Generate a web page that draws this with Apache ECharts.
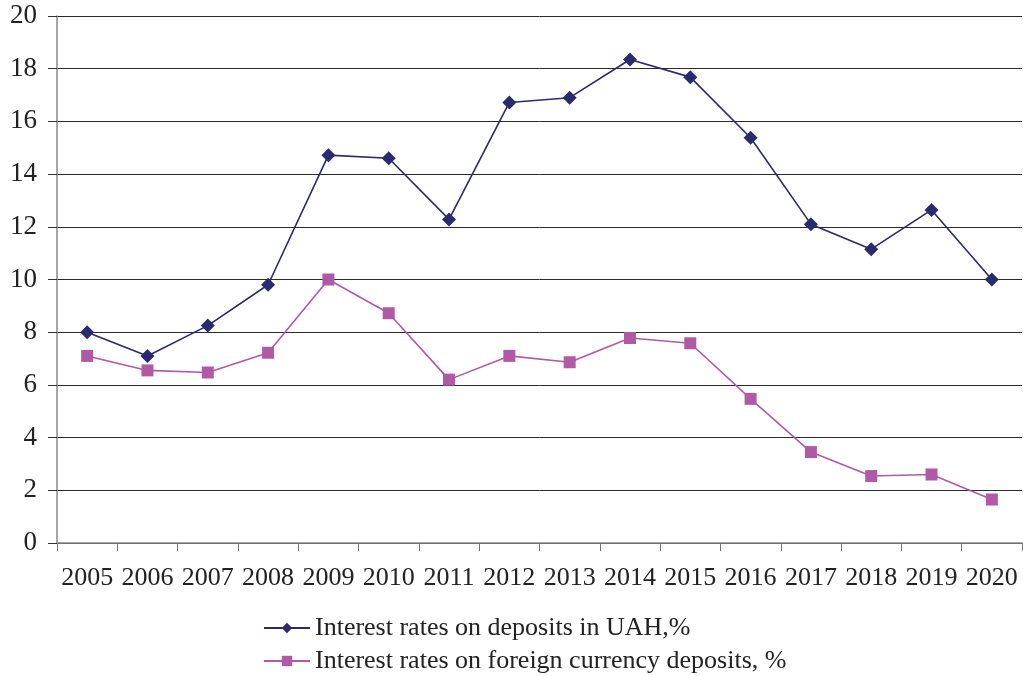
<!DOCTYPE html>
<html lang="en">
<head>
  <meta charset="UTF-8">
  <title>Interest rates on deposits</title>
  <script src="https://cdn.jsdelivr.net/npm/echarts@6/dist/echarts.min.js"></script>
  <style>
    html, body { margin: 0; padding: 0; background: #fff; }
    #main { width: 1023px; height: 676px; }
  </style>
</head>
<body>
  <div id="main"></div>
  <script type="text/javascript">
    var years = ['2005', '2006', '2007', '2008', '2009', '2010', '2011', '2012',
                 '2013', '2014', '2015', '2016', '2017', '2018', '2019', '2020'];
    var uahRates = [8.0, 7.1, 8.25, 9.8, 14.72, 14.6, 12.28, 16.72,
                    16.9, 18.35, 17.68, 15.38, 12.1, 11.15, 12.64, 10.0];
    var fxRates = [7.1, 6.55, 6.47, 7.22, 10.0, 8.72, 6.2, 7.1,
                   6.86, 7.78, 7.58, 5.47, 3.45, 2.54, 2.6, 1.65];
    var uahName = 'Interest rates on deposits in UAH,%';
    var fxName = 'Interest rates on foreign currency deposits, %';

    var font = '"Liberation Serif", "DejaVu Serif", serif';
    var myChart = echarts.init(document.getElementById('main'));

    // one legend per row, like the two stacked entries in the source
    function legendRow(name, top) {
      return {
        orient: 'horizontal',
        left: 258,
        top: top,
        itemWidth: 46,
        itemHeight: 13,
        itemGap: 8,
        textStyle: { fontFamily: font, fontSize: 26, color: '#222' },
        data: [name]
      };
    }

    var option = {
      animation: false,
      textStyle: { fontFamily: font },
      grid: { left: 57, right: 1, top: 16, bottom: 133 },
      legend: [legendRow(uahName, 610), legendRow(fxName, 643)],
      xAxis: {
        type: 'category',
        data: years,
        boundaryGap: true,
        axisLine: { lineStyle: { color: '#888', width: 1.5 } },
        axisTick: { show: true, length: 8, lineStyle: { color: '#777' } },
        axisLabel: { interval: 0, margin: 22, fontSize: 26, color: '#222', fontFamily: font }
      },
      yAxis: {
        type: 'value',
        min: 0,
        max: 20,
        interval: 2,
        axisLine: { show: true, lineStyle: { color: '#888', width: 1.5 } },
        axisTick: { show: true, length: 9, lineStyle: { color: '#333' } },
        axisLabel: { margin: 20, fontSize: 27, color: '#222', fontFamily: font },
        splitLine: { lineStyle: { color: '#2a2a2a', width: 1 } }
      },
      series: [
        {
          name: uahName,
          type: 'line',
          data: uahRates,
          symbol: 'diamond',
          symbolSize: 14,
          color: '#2b2a6e',
          lineStyle: { width: 1.6, color: '#2b2a6e' },
          itemStyle: { color: '#2b2a6e' }
        },
        {
          name: fxName,
          type: 'line',
          data: fxRates,
          symbol: 'rect',
          symbolSize: 12,
          color: '#b05aa6',
          lineStyle: { width: 1.6, color: '#b05aa6' },
          itemStyle: { color: '#b05aa6' }
        }
      ]
    };

    myChart.setOption(option);
  </script>
</body>
</html>
